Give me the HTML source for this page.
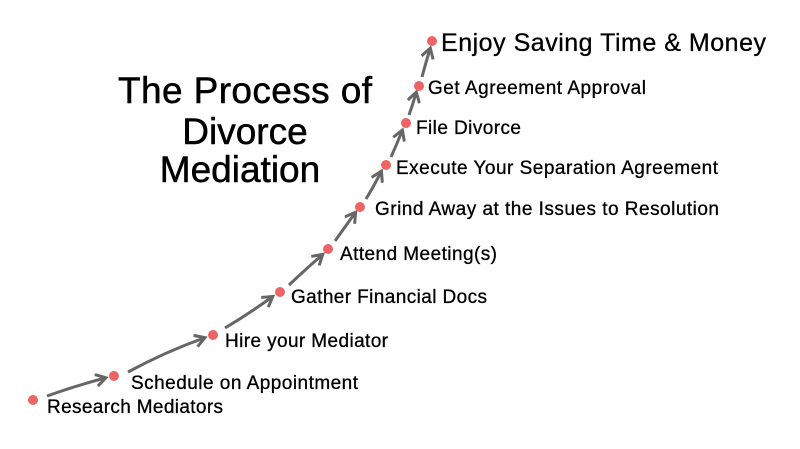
<!DOCTYPE html>
<html><head><meta charset="utf-8"><style>
body{margin:0;background:#fff;width:800px;height:444px;overflow:hidden;font-family:"Liberation Sans",sans-serif}
</style></head><body>
<svg width="800" height="444" viewBox="0 0 800 444" xmlns="http://www.w3.org/2000/svg" font-family="Liberation Sans, sans-serif">
<defs>
<marker id="b" markerWidth="14" markerHeight="14" refX="10" refY="7" orient="auto" markerUnits="userSpaceOnUse" viewBox="0 0 14 14"><path d="M1,1 L11,7 L1,13" fill="none" stroke="#666" stroke-width="3"/></marker></defs>
<g stroke="#666" stroke-width="3" fill="none" marker-end="url(#b)">
<path d="M47,396 Q75,386 105,378"/>
<path d="M128,372 Q165,352 204,338"/>
<path d="M225,328 Q250,313 272,297"/>
<path d="M289,285 Q306,269 322,255"/>
<path d="M335,241 Q345,227 355,213"/>
<path d="M366,199 Q374,186 381,172"/>
<path d="M391,157 Q397,144 402,131"/>
<path d="M409,115 Q413,104 416,93"/>
<path d="M422,77 Q426,62 430,49"/>
</g>
<g fill="#ee6464">
<circle cx="33" cy="400" r="5"/><circle cx="114" cy="376" r="5"/><circle cx="213" cy="335" r="5"/><circle cx="280" cy="292" r="5"/><circle cx="328" cy="249" r="5"/><circle cx="360" cy="207" r="5"/><circle cx="386" cy="165" r="5"/><circle cx="406" cy="123" r="5"/><circle cx="419" cy="86" r="5"/><circle cx="432" cy="41" r="5"/>
</g>
<g font-size="19" fill="#000" stroke="#000" stroke-width="0.3" lengthAdjust="spacingAndGlyphs">
<text x="47" y="413" textLength="176">Research Mediators</text>
<text x="131" y="389" textLength="227">Schedule on Appointment</text>
<text x="225" y="347" textLength="163">Hire your Mediator</text>
<text x="291" y="303" textLength="196">Gather Financial Docs</text>
<text x="340" y="260" textLength="157">Attend Meeting(s)</text>
<text x="375" y="215" textLength="344">Grind Away at the Issues to Resolution</text>
<text x="396" y="174" textLength="322">Execute Your Separation Agreement</text>
<text x="416" y="134" textLength="105">File Divorce</text>
<text x="428" y="94" textLength="218">Get Agreement Approval</text>
<text x="441" y="51" font-size="25" textLength="325">Enjoy Saving Time &amp; Money</text>
</g>
<g font-size="37" text-anchor="middle" fill="#000" stroke="#000" stroke-width="0.5">
<text x="245" y="103" textLength="254">The Process of</text>
<text x="245" y="144">Divorce</text>
<text x="240" y="182">Mediation</text>
</g>
</svg>
</body></html>
